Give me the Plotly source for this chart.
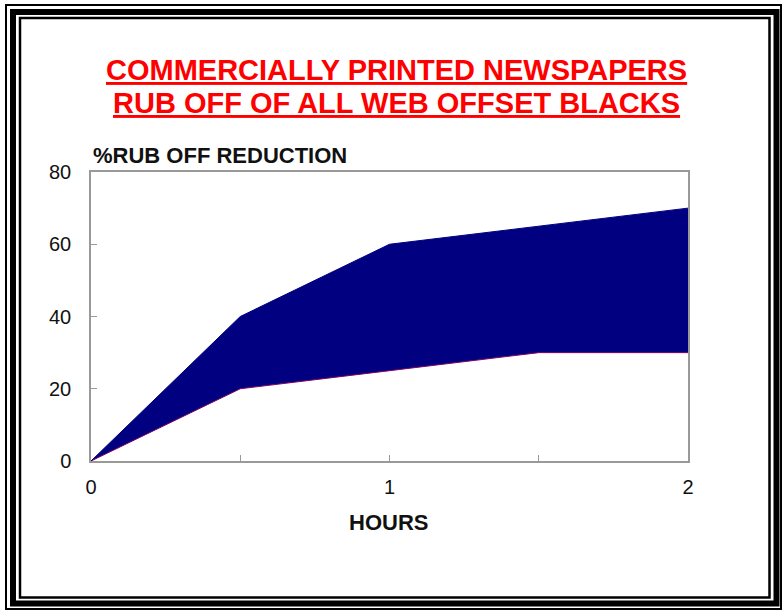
import plotly.graph_objects as go

hours = [0, 0.5, 1, 1.5, 2]
lower = [0, 20, 25, 30, 30]
upper = [0, 40, 60, 65, 70]

W, H = 783, 611
L, R, T, B = 91, 95, 172, 150
PW, PH = W - L - R, H - T - B

def px(x):
    return (x - L) / PW

def py(y):
    return 1 - (y - T) / PH

fig = go.Figure()
fig.add_trace(go.Scatter(x=hours, y=lower, mode="lines",
                         line=dict(color="#800060", width=1), hoverinfo="skip"))
fig.add_trace(go.Scatter(x=hours, y=upper, mode="lines", fill="tonexty",
                         fillcolor="#000080", line=dict(color="#000080", width=1),
                         hoverinfo="skip"))

shapes = []
for (l, t, r, b, w) in [(6, 5, 781, 609, 2), (13, 12, 776.5, 603.5, 6), (20, 18, 769.5, 597.5, 2.5)]:
    shapes.append(dict(type="rect", xref="paper", yref="paper",
                       x0=px(l), x1=px(r), y0=py(b), y1=py(t),
                       line=dict(color="black", width=w), fillcolor="rgba(0,0,0,0)", layer="above"))

annotations = [
    dict(text="<b><u>COMMERCIALLY PRINTED NEWSPAPERS</u></b>", x=px(396), y=py(70),
         xref="paper", yref="paper", showarrow=False, xanchor="center", yanchor="middle",
         font=dict(family="Liberation Sans, Arial", size=29, color="#ff0000")),
    dict(text="<b><u>RUB OFF OF ALL WEB OFFSET BLACKS</u></b>", x=px(396), y=py(103),
         xref="paper", yref="paper", showarrow=False, xanchor="center", yanchor="middle",
         font=dict(family="Liberation Sans, Arial", size=29, color="#ff0000")),
    dict(text="<b>%RUB OFF REDUCTION</b>", x=px(91), y=py(155),
         xref="paper", yref="paper", showarrow=False, xanchor="left", yanchor="middle",
         font=dict(family="Liberation Sans, Arial", size=22, color="#111111")),
    dict(text="<b>HOURS</b>", x=px(388), y=py(522),
         xref="paper", yref="paper", showarrow=False, xanchor="center", yanchor="middle",
         font=dict(family="Liberation Sans, Arial", size=22, color="#111111")),
]

fig.update_layout(
    width=W, height=H,
    margin=dict(l=L, r=R, t=T, b=B),
    paper_bgcolor="white", plot_bgcolor="white",
    showlegend=False,
    shapes=shapes, annotations=annotations,
    font=dict(family="Liberation Sans, Arial", size=20, color="#111111"),
    xaxis=dict(range=[0, 2], dtick=1, tick0=0, showgrid=False, zeroline=False,
               showline=True, linecolor="#999999", linewidth=1.5, mirror=True,
               ticks="inside", ticklen=6, tickcolor="#999999",
               minor=dict(dtick=0.5, ticks="inside", ticklen=6, tickcolor="#999999"),
               ticklabelstandoff=7),
    yaxis=dict(range=[0, 80], dtick=20, tick0=0, showgrid=False, zeroline=False,
               showline=True, linecolor="#999999", linewidth=1.5, mirror=True,
               ticks="inside", ticklen=6, tickcolor="#999999",
               ticklabelstandoff=14),
)

fig.write_html("out.html", config={"displayModeBar": False},
               post_script="document.body.style.margin='0px';document.body.style.overflow='hidden';")
